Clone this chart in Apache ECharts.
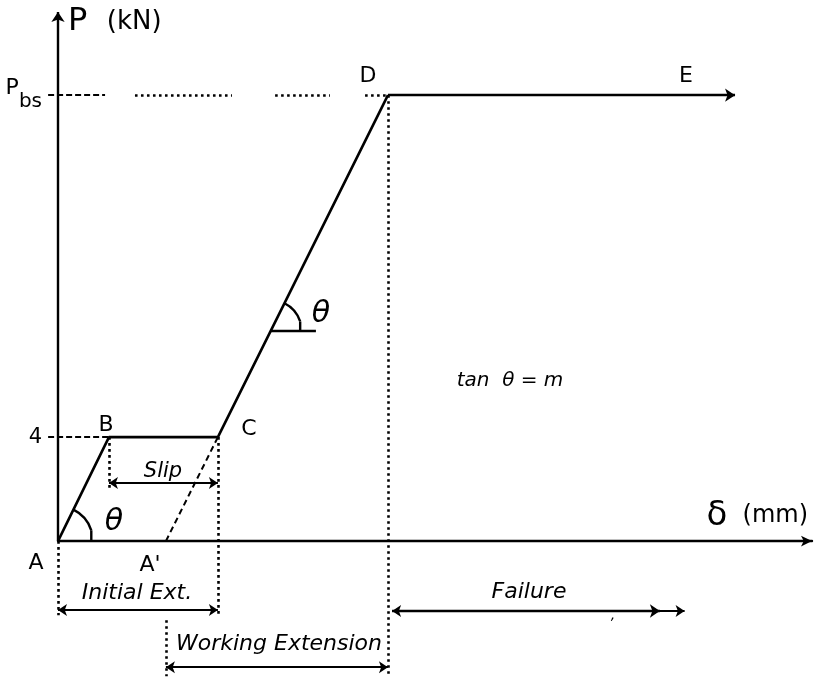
<!DOCTYPE html>
<html><head><meta charset="utf-8">
<script src="https://cdn.jsdelivr.net/npm/echarts@6/dist/echarts.min.js"></script>
<style>html,body{margin:0;padding:0;background:#fff}#c{width:819px;height:677px}</style>
</head><body><div id="c"></div>
<script>
// ---------- data (x: extension δ, y: load P in kN) ----------
const pathNames = ['A', 'B', 'C', 'D', 'E'];
const pathX = [0, 1.96, 6.15, 12.69, 26.04];
const pathY = [0, 4, 4, 17.15, 17.15];
const unloadX = [4.15, 6.15];          // A' -> C (dashed)
const unloadY = [0, 4];
const slipLoad = 4;
const bearingLoad = 17.15;             // P_bs
const yTickValues = [slipLoad, bearingLoad];
const yTickLabels = ['4', 'Pbs'];
const xMax = 29, yMax = 20.35, yMin = -5.2;

// dimension arrows
const dimNames = ['Slip', 'Initial Ext.', 'Working Extension', 'Failure'];
const dimStart = [1.96, 0, 4.15, 12.85];
const dimEnd = [6.15, 6.15, 12.69, 24.1];
const dimLevel = [2.23, -2.65, -4.85, -2.69];
const failureExtraHead = 23.15;

// vertical dotted projection lines
const dropX = [0, 1.96, 6.15, 4.15, 12.69];
const dropFrom = [0, 4, 4, -3.04, 17.15];
const dropTo = [-2.85, 1.96, -2.92, -5.2, -5.2];

// P_bs reference line pieces
const pbsDashFrom = [-0.38], pbsDashTo = [1.81];
const pbsDotFrom = [2.96, 8.35, 11.81], pbsDotTo = [6.69, 10.46, 12.69];
const slipGuideFrom = -0.38;

// angle marks: vertex and a point along the sloped leg
const angleVX = [0, 8.18], angleVY = [0, 8.08];
const angleTX = [1.96, 12.69], angleTY = [4, 17.15];
const angleLegEnd = 9.92;

// annotations (text, data position, kind)
const annText = ['A', "A'", 'B', 'C', 'D', 'E', 'θ', 'θ', 'Slip', 'Initial Ext.', 'Working Extension', 'Failure', 'tan  θ = m', ','];
const annX = [-0.85, 3.54, 1.85, 7.35, 11.92, 24.15, 2.15, 10.13, 4.04, 3.02, 8.5, 18.1, 17.38, 21.35];
const annY = [-0.85, -0.92, 4.46, 4.31, 17.9, 17.9, 0.72, 8.73, 2.65, -2.0, -3.96, -1.96, 6.15, -2.85];
const annKind = ['pt', 'pt', 'pt', 'pt', 'pt', 'pt', 'th', 'th', 'slip', 'it', 'it', 'it', 'tan', 'tick'];

// ---------- build ----------
const FONT = 'DejaVu Sans';
const seg = (x1, y1, x2, y2) => ({ coords: [[x1, y1], [x2, y2]] });
const kindStyle = {
  pt: { fontSize: 22, fontStyle: 'normal' },
  th: { fontSize: 30, fontStyle: 'italic' },
  slip: { fontSize: 21, fontStyle: 'italic' },
  it: { fontSize: 22, fontStyle: 'italic' },
  tan: { fontSize: 20, fontStyle: 'italic' },
  tick: { fontSize: 14, fontStyle: 'italic' }
};
const lineBase = (extra) => Object.assign({
  type: 'lines', coordinateSystem: 'cartesian2d', silent: true, clip: false,
  polyline: false, symbol: ['none', 'none'], symbolSize: 9
}, extra);

const chart = echarts.init(document.getElementById('c'));
chart.setOption({
  animation: false,
  backgroundColor: '#fff',
  grid: { left: 58, top: 12, width: 754, height: 664.3 },
  xAxis: {
    type: 'value', min: 0, max: xMax,
    axisLine: { onZero: true, symbol: ['none', 'arrow'], symbolSize: [8, 11], lineStyle: { color: '#000', width: 2.4 } },
    axisTick: { show: false }, axisLabel: { show: false }, splitLine: { show: false },
    name: '{d|δ}  {u|(mm)}', nameLocation: 'end', nameGap: -4,
    nameTextStyle: {
      align: 'right', verticalAlign: 'bottom', padding: [0, 0, 8, 0], fontSize: 24, fontFamily: FONT, color: '#000',
      rich: { d: { fontFamily: FONT, fontSize: 34, color: '#000' }, u: { fontFamily: FONT, fontSize: 24, color: '#000' } }
    }
  },
  yAxis: {
    type: 'value', min: yMin, max: yMax,
    axisLine: { show: false }, axisTick: { show: false }, splitLine: { show: false },
    axisLabel: {
      customValues: yTickValues, margin: 16, color: '#000', fontFamily: FONT, fontSize: 21,
      formatter: (v) => {
        const i = yTickValues.indexOf(v);
        const t = yTickLabels[i];
        return t === 'Pbs' ? '{p|P}{s|bs}' : t;
      },
      rich: {
        p: { fontFamily: FONT, fontSize: 22, color: '#000', lineHeight: 22, padding: [0, 0, 14, 0] },
        s: { fontFamily: FONT, fontSize: 20, color: '#000', lineHeight: 20, padding: [14, 0, 0, 0] }
      }
    },
    name: '{p|P}  {u|(kN)}', nameLocation: 'end', nameGap: -10,
    nameTextStyle: {
      align: 'left', verticalAlign: 'middle', padding: [0, 0, 0, 10], fontSize: 26, fontFamily: FONT, color: '#000',
      rich: { p: { fontFamily: FONT, fontSize: 32, color: '#000' }, u: { fontFamily: FONT, fontSize: 26, color: '#000', padding: [0, 0, 0, 3] } }
    }
  },
  series: [
    { // loading path A-B-C-D
      type: 'line', silent: true, showSymbol: false, symbol: 'none', clip: false,
      data: pathX.slice(0, 4).map((x, i) => [x, pathY[i]]),
      lineStyle: { color: '#000', width: 2.6 }
    },
    { // unloading A'-C
      type: 'line', silent: true, showSymbol: false, symbol: 'none', clip: false,
      data: unloadX.map((x, i) => [x, unloadY[i]]),
      lineStyle: { color: '#000', width: 2, type: [6, 4] }
    },
    lineBase({ // single-head arrows: P axis, D-E, failure extra head
      symbol: ['none', 'arrow'], symbolSize: 10,
      lineStyle: { color: '#000', width: 2.4, opacity: 1 },
      data: [
        seg(0, 0, 0, yMax),
        seg(pathX[3], pathY[3], pathX[4], pathY[4]),
        seg(dimStart[3], dimLevel[3], failureExtraHead, dimLevel[3])
      ]
    }),
    lineBase({ // double-head dimension arrows
      symbol: ['arrow', 'arrow'], symbolSize: 9,
      lineStyle: { color: '#000', width: 2.2, opacity: 1 },
      data: dimNames.map((n, i) => seg(dimStart[i], dimLevel[i], dimEnd[i], dimLevel[i]))
    }),
    lineBase({ // dotted projection lines
      lineStyle: { color: '#000', width: 2.6, opacity: 1, type: [2.6, 3.4] },
      data: dropX.map((x, i) => seg(x, dropFrom[i], x, dropTo[i]))
        .concat(pbsDotFrom.map((x, i) => seg(x, bearingLoad, pbsDotTo[i], bearingLoad)))
    }),
    lineBase({ // dashed reference lines
      lineStyle: { color: '#000', width: 2, opacity: 1, type: [6, 3] },
      data: pbsDashFrom.map((x, i) => seg(x, bearingLoad, pbsDashTo[i], bearingLoad))
        .concat([seg(slipGuideFrom, slipLoad, pathX[1], slipLoad)])
    }),
    lineBase({ // angle leg
      lineStyle: { color: '#000', width: 2.4, opacity: 1 },
      data: [seg(angleVX[1], angleVY[1], angleLegEnd, angleVY[1])]
    }),
    { // angle arcs
      type: 'custom', silent: true, clip: false,
      data: angleVX.map((x, i) => [x, angleVY[i], angleTX[i], angleTY[i]]),
      renderItem: (params, api) => {
        const radii = [35, 31];
        const p = api.coord([api.value(0), api.value(1)]);
        const q = api.coord([api.value(2), api.value(3)]);
        const r = radii[params.dataIndex];
        const a0 = Math.atan2(q[1] - p[1], q[0] - p[0]);
        const a1 = -18 * Math.PI / 180;
        const ex = p[0] + r * Math.cos(a1), ey = p[1] + r * Math.sin(a1);
        return {
          type: 'group', children: [
            { type: 'arc', shape: { cx: p[0], cy: p[1], r: r, startAngle: a0, endAngle: a1, clockwise: true },
              style: { stroke: '#000', fill: null, lineWidth: 2.4 } },
            { type: 'line', shape: { x1: ex, y1: ey, x2: ex, y2: p[1] }, style: { stroke: '#000', lineWidth: 2.4 } }
          ]
        };
      }
    }
  ]
});

// text annotations placed through the chart's own coordinate conversion
chart.setOption({
  graphic: annText.map((t, i) => {
    const p = chart.convertToPixel({ gridIndex: 0 }, [annX[i], annY[i]]);
    const k = kindStyle[annKind[i]];
    return {
      type: 'text', silent: true, x: Math.round(p[0]), y: Math.round(p[1]),
      style: {
        text: t, fill: '#000', fontFamily: FONT, fontSize: k.fontSize, fontStyle: k.fontStyle,
        align: 'center', verticalAlign: 'middle'
      }
    };
  })
});
</script></body></html>
